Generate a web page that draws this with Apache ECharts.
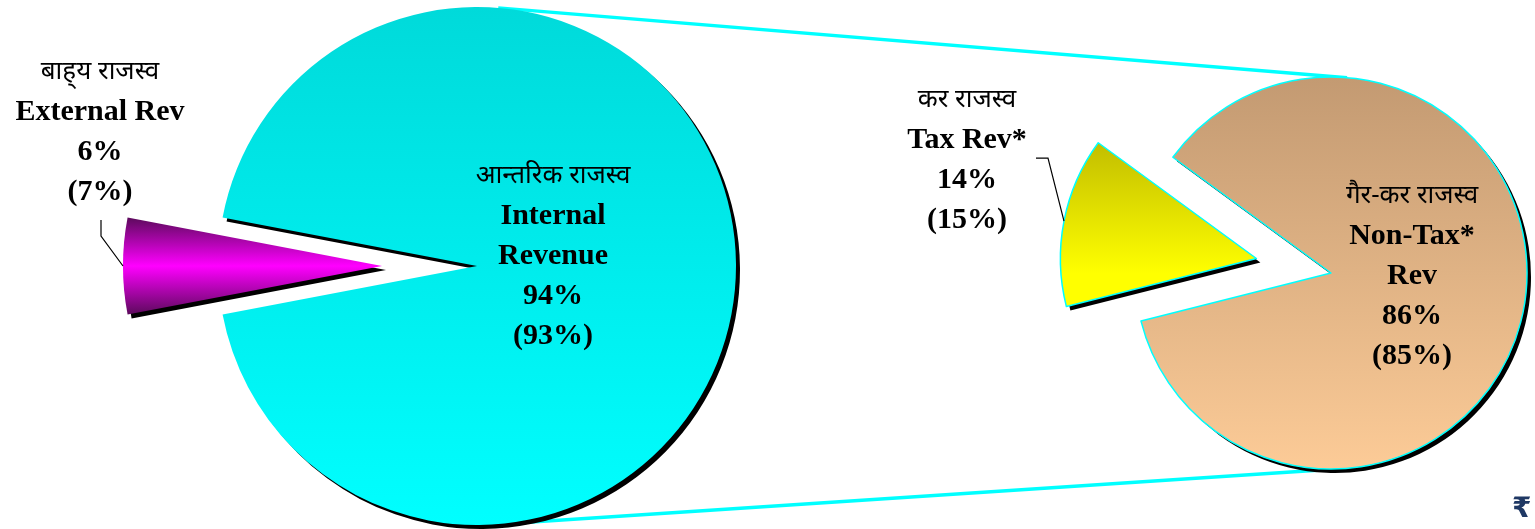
<!DOCTYPE html>
<html>
<head>
<meta charset="utf-8">
<script src="https://cdn.jsdelivr.net/npm/echarts@6/dist/echarts.min.js"></script>
<style>
  html, body { margin: 0; padding: 0; background: #fff; }
  #chart { width: 1535px; height: 529px; }
</style>
</head>
<body>
<div id="chart"></div>
<script>
// total revenue split (current year, previous year in brackets)
const revenueHindi = ['बाह्‌य राजस्व', 'आन्तरिक राजस्व']
const revenueNames = ['External Rev', 'Internal\nRevenue']
const revenueShare = [6, 94]
const revenuePrev = [7, 93]

// internal revenue split
const internalHindi = ['कर राजस्व', 'गैर-कर राजस्व']
const internalNames = ['Tax Rev*', 'Non-Tax*\nRev']
const internalShare = [14, 86]
const internalPrev = [15, 85]

const LEFT = { center: [477, 266], r: 259, start: 190.8, offset: 95 }
const RIGHT = { center: [1331, 273], r: 196, start: 194.2, offset: 76 }

function vgrad(stops) {
  return { type: 'linear', x: 0, y: 0, x2: 0, y2: 1, colorStops: stops.map((c) => ({ offset: c[0], color: c[1] })) }
}

const colorsLeft = [
  vgrad([[0, '#5c0a5c'], [0.5, '#ff00ff'], [1, '#5c0a5c']]),
  vgrad([[0, '#00dada'], [1, '#00ffff']])
]
const colorsRight = [
  vgrad([[0, '#c2be00'], [0.8, '#ffff00'], [1, '#ffff00']]),
  vgrad([[0, '#c39a72'], [1, '#fccb97']])
]

function labelText(hindi, name, v, prev) {
  const en = name.split('\n').map((s) => '{en|' + s + '}').join('\n')
  return '{hi|' + hindi + '}\n' + en + '\n{en|' + v + '%}\n{en|(' + prev + '%)}'
}

const rich = {
  hi: { fontFamily: '"Noto Sans", "DejaVu Sans", sans-serif', fontSize: 26, lineHeight: 40, fill: '#000', color: '#000' },
  en: { fontFamily: '"Liberation Serif", "Times New Roman", serif', fontWeight: 'bold', fontSize: 30, lineHeight: 40, fill: '#000', color: '#000' }
}

function pie(cfg, hindi, names, share, prev, colors, labelPos) {
  return {
    type: 'pie',
    center: cfg.center,
    radius: cfg.r,
    startAngle: cfg.start,
    clockwise: true,
    selectedMode: 'multiple',
    selectedOffset: cfg.offset,
    avoidLabelOverlap: false,
    z: 3,
    emphasis: { disabled: true },
    itemStyle: {
      borderWidth: 0,
      shadowColor: '#000',
      shadowBlur: 0,
      shadowOffsetX: 4,
      shadowOffsetY: 4
    },
    label: { position: 'inside', rich: rich, align: 'center', color: '#000' },
    labelLine: { show: false },
    labelLayout: (p) => {
      const pos = labelPos[p.dataIndex]
      return { x: pos[0], y: pos[1], align: 'center', verticalAlign: 'middle' }
    },
    data: share.map((v, i) => ({
      value: v,
      name: names[i],
      selected: i === 0,
      itemStyle: { color: colors[i] },
      // the exploded slice is labelled outside, see outsideLabel()
      label: { show: i !== 0, formatter: labelText(hindi[i], names[i], v, prev[i]) }
    }))
  }
}

// thin cyan outline laid over a pie, without the drop shadow
function outline(cfg, names, share) {
  return {
    type: 'pie',
    center: cfg.center,
    radius: cfg.r,
    startAngle: cfg.start,
    clockwise: true,
    selectedMode: 'multiple',
    selectedOffset: cfg.offset,
    silent: true,
    z: 4,
    emphasis: { disabled: true },
    itemStyle: { color: 'rgba(0,0,0,0)', borderColor: '#00ffff', borderWidth: 1.5 },
    select: { itemStyle: { borderColor: '#00ffff', borderWidth: 1.5 } },
    label: { show: false },
    labelLine: { show: false },
    data: share.map((v, i) => ({ value: v, name: names[i], selected: i === 0 }))
  }
}

// outer tangent lines joining the two pies
function tangent(sign) {
  const [x1, y1] = LEFT.center, [x2, y2] = RIGHT.center
  const dx = x2 - x1, dy = y2 - y1, d = Math.hypot(dx, dy)
  const ux = dx / d, uy = dy / d, vx = -uy, vy = ux
  const a = (RIGHT.r - LEFT.r) / d, b = sign * Math.sqrt(1 - a * a)
  const nx = a * ux + b * vx, ny = a * uy + b * vy
  return {
    type: 'line',
    z: 1,
    shape: { x1: x1 - LEFT.r * nx, y1: y1 - LEFT.r * ny, x2: x2 - RIGHT.r * nx, y2: y2 - RIGHT.r * ny },
    style: { stroke: '#00ffff', lineWidth: 3.5 }
  }
}

// leader line from the outer edge of the exploded slice to its label
function leader(cfg, share, bends) {
  const total = share.reduce((s, v) => s + v, 0)
  const mid = (cfg.start - share[0] / total * 180) * Math.PI / 180
  const rr = cfg.r + cfg.offset
  const p0 = [cfg.center[0] + rr * Math.cos(mid), cfg.center[1] - rr * Math.sin(mid)]
  return {
    type: 'polyline',
    z: 5,
    shape: { points: [p0].concat(bends.map((d) => [p0[0] + d[0], p0[1] + d[1]])) },
    style: { stroke: '#000', lineWidth: 1.2, fill: null }
  }
}

function outsideLabel(pos, hindi, names, share, prev) {
  return {
    type: 'text',
    x: pos[0],
    y: pos[1],
    z: 5,
    style: {
      text: labelText(hindi[0], names[0], share[0], prev[0]),
      rich: rich,
      align: 'center',
      verticalAlign: 'middle'
    }
  }
}

const chart = echarts.init(document.getElementById('chart'))
chart.setOption({
  animation: false,
  backgroundColor: '#fff',
  graphic: [
    tangent(1),
    tangent(-1),
    leader(LEFT, revenueShare, [[-22, -30], [-22, -46]]),
    leader(RIGHT, internalShare, [[-16, -63], [-28, -63]]),
    outsideLabel([100, 132], revenueHindi, revenueNames, revenueShare, revenuePrev),
    outsideLabel([967, 160], internalHindi, internalNames, internalShare, internalPrev),
    {
      type: 'text', left: 1512, top: 496, z: 5,
      style: { text: '₹', font: 'bold 28px "DejaVu Sans", sans-serif', fill: '#1f3864' }
    }
  ],
  series: [
    pie(LEFT, revenueHindi, revenueNames, revenueShare, revenuePrev, colorsLeft, [[100, 132], [553, 256]]),
    pie(RIGHT, internalHindi, internalNames, internalShare, internalPrev, colorsRight, [[967, 160], [1412, 276]]),
    outline(RIGHT, internalNames, internalShare)
  ]
})
</script>
</body>
</html>
